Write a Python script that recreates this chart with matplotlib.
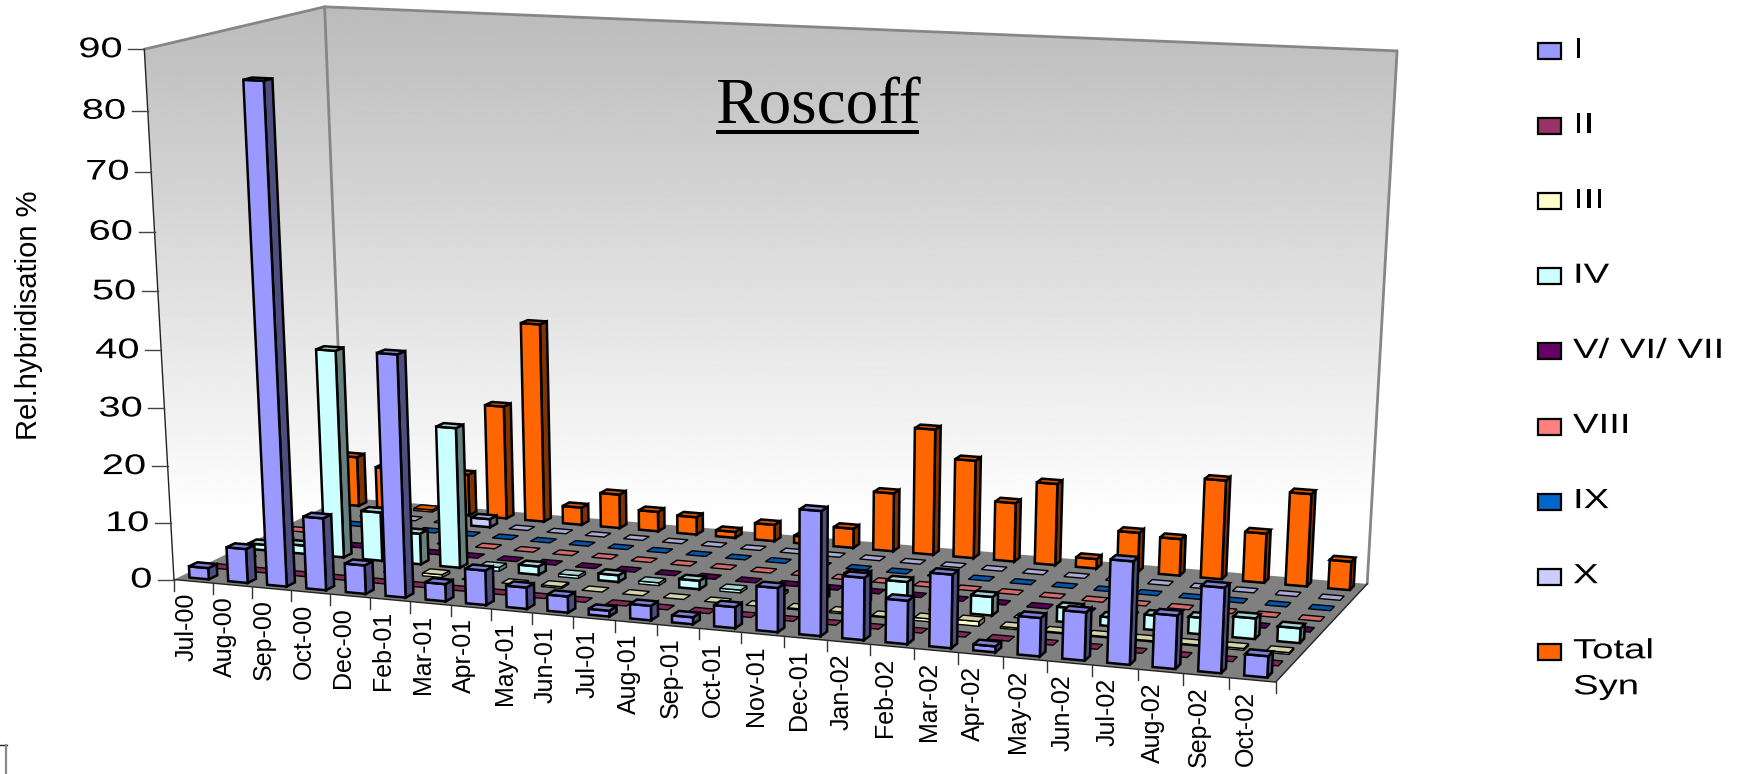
"""Roscoff 3D column chart: hybridisation per clade and month."""
import numpy as np
import matplotlib
matplotlib.use("Agg")
import matplotlib.pyplot as plt
from matplotlib.patches import Polygon, Rectangle
from matplotlib.patheffects import AbstractPathEffect
from matplotlib.transforms import Affine2D

MONTHS = ["Jul-00", "Aug-00", "Sep-00", "Oct-00", "Dec-00", "Feb-01", "Mar-01", "Apr-01", "May-01",
          "Jun-01", "Jul-01", "Aug-01", "Sep-01", "Oct-01", "Nov-01", "Dec-01", "Jan-02", "Feb-02",
          "Mar-02", "Apr-02", "May-02", "Jun-02", "Jul-02", "Aug-02", "Sep-02", "Oct-02"]

clade_i = [2, 6, 85.5, 12.6, 5, 41.7, 3, 6, 3.7, 2.8, 1, 2.5, 1.2, 3.6, 7.5, 21, 10.5, 7.3, 12.3, 1, 6.4, 8, 17, 8.8, 14, 3.5]
clade_ii = [0, 0, 0, 0, 0, 0, 0, 0, 0, 0, 0, 0, 0, 0, 0, 0, 0, 0, 0, 0, 0, 0, 0, 0, 0, 0]
clade_iii = [0, 0, 0, 0, 0, 0.5, 0, 0, 0.3, 0, 0, 0, 0, 0, 0.2, 0.3, 0.2, 0.5, 0.8, 0.3, 0.2, 0.2, 0.2, 0.2, 0.3, 0.3]
clade_iv = [1, 1.5, 36.8, 8.7, 5.5, 24.8, 0.7, 1.5, 0.5, 1.2, 0.5, 1.5, 0.5, 0.5, 1.5, 5, 4.5, 0, 3.2, 0, 2.5, 1.5, 2.5, 2.8, 3.5, 2.5]
clade_v = [0, 0, 0, 0, 0, 0, 0, 0, 0, 0, 0, 0, 0, 0, 0, 0, 0, 0, 0, 0, 0, 0, 0, 0, 0, 0]
clade_viii = [0, 0, 0, 0, 0, 0, 0, 0, 0, 0, 0, 0, 0, 0, 0, 0, 0, 0, 0, 0, 0, 0, 0, 0, 0, 0]
clade_ix = [0, 0, 0, 0, 0, 0, 0, 0, 0, 0, 0, 0, 0, 0, 0, 0, 0, 0, 0, 0, 0, 0, 0, 0, 0, 0]
clade_x = [0, 0, 0, 0, 1.5, 0, 0, 0, 0, 0, 0, 0, 0, 0, 0, 0, 0, 0, 0, 0, 0, 0, 0, 0, 0, 0]
total_syn = [9.2, 7.6, 0.4, 7.6, 20.8, 36.3, 3.2, 6.2, 3.6, 3.2, 1.1, 3, 1.3, 3.5, 10.5, 22.5, 17.5, 10.5, 14.5, 1.7, 7, 6.5, 17.4, 8.7, 16.2, 5]

SERIES = [clade_i, clade_ii, clade_iii, clade_iv, clade_v, clade_viii, clade_ix, clade_x, total_syn]
NAMES = ["I", "II", "III", "IV", "V/ VI/ VII", "VIII", "IX", "X", "Total\nSyn"]
COLORS = ["#9999FF", "#993366", "#FFFFCC", "#CCFFFF", "#660066", "#FF8080", "#0066CC", "#CCCCFF", "#FF6600"]
YTICKS = [0, 10, 20, 30, 40, 50, 60, 70, 80, 90]
YMAX = 90

# box corners (month axis, series axis, height) -> where they sit in the picture
BOX = [((0, 0, 0), (174, 578)), ((1, 0, 0), (1276, 683)), ((1, 1, 0), (1367, 583)), ((0, 1, 0), (344, 499)),
       ((0, 0, 1), (144, 50)), ((0, 1, 1), (325, 6)), ((1, 1, 1), (1397, 51))]
BAR_W = 0.5
BAR_D = 0.42


class Stretch(AbstractPathEffect):
    """Widen glyphs sideways, the original chart has squashed-out text."""

    def __init__(self, sx, anchor="left"):
        super().__init__()
        self.sx = sx
        self.anchor = anchor

    def draw_path(self, renderer, gc, tpath, affine, rgbFace=None):
        x0 = tpath.get_extents().x1 if self.anchor == "right" else 0
        t = Affine2D().translate(-x0, 0).scale(self.sx, 1).translate(x0, 0)
        renderer.draw_path(gc, tpath, t + affine, rgbFace)


def fit_camera(box):
    A, b = [], []
    for (X, Y, Z), (x, y) in box:
        A.append([X, Y, Z, 1, 0, 0, 0, 0, -x * X, -x * Y, -x * Z])
        A.append([0, 0, 0, 0, X, Y, Z, 1, -y * X, -y * Y, -y * Z])
        b += [x, y]
    p = np.linalg.lstsq(np.array(A, float), np.array(b, float), rcond=None)[0]
    return np.append(p, 1).reshape(3, 4)


CAM = fit_camera(BOX)


def proj(u, v, w=0.0):
    px = CAM @ np.array([u, v, w, 1.0])
    return px[0] / px[2], px[1] / px[2]


def shade(color, f):
    rgb = np.array(matplotlib.colors.to_rgb(color)) * f
    return tuple(rgb)


def signed_area(pts):
    a = np.array(pts)
    x, y = a[:, 0], a[:, 1]
    return 0.5 * np.sum(x * np.roll(y, -1) - np.roll(x, -1) * y)


def draw_bar(ax, i, j, val, color):
    n, m = len(MONTHS), len(SERIES)
    u0 = (i + 0.5 - BAR_W / 2) / n
    u1 = (i + 0.5 + BAR_W / 2) / n
    v0 = (j + 0.5 - BAR_D / 2) / m
    v1 = (j + 0.5 + BAR_D / 2) / m
    w = val / YMAX
    lw = 1.8 if val >= 1 else 1.0
    faces = []
    if val > 0:
        left = [proj(u0, v1, 0), proj(u0, v0, 0), proj(u0, v0, w), proj(u0, v1, w)]
        right = [proj(u1, v0, 0), proj(u1, v1, 0), proj(u1, v1, w), proj(u1, v0, w)]
        front = [proj(u0, v0, 0), proj(u1, v0, 0), proj(u1, v0, w), proj(u0, v0, w)]
        if signed_area(left) < 0:
            faces.append((left, shade(color, 0.5)))
        if signed_area(right) < 0:
            faces.append((right, shade(color, 0.5)))
        faces.append((front, color))
    top = [proj(u0, v0, w), proj(u1, v0, w), proj(u1, v1, w), proj(u0, v1, w)]
    faces.append((top, shade(color, 0.83)))
    for pts, fc in faces:
        ax.add_patch(Polygon(pts, closed=True, facecolor=fc, edgecolor="black", linewidth=lw, joinstyle="miter", zorder=5))


fig = plt.figure(figsize=(17.47, 7.74), dpi=100)
ax = fig.add_axes([0, 0, 1, 1])
ax.axis("off")

# walls, gradient runs straight down the picture
grad = np.linspace(187, 255, 256).reshape(-1, 1) / 255
for corners in ([(0, 0), (0, 1)], [(0, 1), (1, 1)]):
    (a0, b0), (a1, b1) = corners
    wall = [proj(a0, b0, 0), proj(a1, b1, 0), proj(a1, b1, 1), proj(a0, b0, 1)]
    im = ax.imshow(grad, cmap="gray", vmin=0, vmax=1, extent=(0, 1747, 520, 6), aspect="auto", zorder=1)
    im.set_clip_path(Polygon(wall, closed=True, transform=ax.transData))
ax.set_xlim(0, 1747)
ax.set_ylim(774, 0)

# wall outline
for a, b in [((0, 0, 1), (0, 1, 1)), ((0, 1, 1), (1, 1, 1)), ((0, 1, 1), (0, 1, 0)), ((1, 1, 1), (1, 1, 0))]:
    xs, ys = zip(proj(*a), proj(*b))
    ax.plot(xs, ys, color="#868686", lw=2, zorder=2, solid_capstyle="round")

# floor
floor = [proj(0, 0), proj(1, 0), proj(1, 1), proj(0, 1)]
ax.add_patch(Polygon(floor, closed=True, facecolor="#808080", edgecolor="none", zorder=3))
xs, ys = zip(proj(0, 0), proj(1, 0), proj(1, 1))
ax.plot(xs, ys, color="#222222", lw=1, zorder=4)
xs, ys = zip(proj(0, 0, 0), proj(0, 0, 1))
ax.plot(xs, ys, color="#222222", lw=1, zorder=4)

# y axis
for t in YTICKS:
    x, y = proj(0, 0, t / YMAX)
    ax.plot([x - 16, x], [y, y], color="#444444", lw=1, zorder=4)
    ax.text(x - 22, y + 1, str(t), ha="right", va="center", fontsize=20.5, family="Liberation Sans", color="black",
            path_effects=[Stretch(1.4, "right")])

# x axis
for i in range(len(MONTHS) + 1):
    x, y = proj(i / len(MONTHS), 0)
    ax.plot([x, x], [y, y + 11], color="#333333", lw=1, zorder=4)
for i, lab in enumerate(MONTHS):
    x, y = proj((i + 0.5) / len(MONTHS), 0)
    ax.text(x - 7, y + 11, lab, rotation=90, ha="center", va="top", fontsize=18,
            family="Liberation Sans", color="black")

# columns, back row first
for j in range(len(SERIES) - 1, -1, -1):
    for i in range(len(MONTHS)):
        draw_bar(ax, i, j, SERIES[j][i], COLORS[j])

ax.text(818, 123, "Roscoff", ha="center", va="baseline", fontsize=47, family="Liberation Serif", color="black", zorder=6)
ax.plot([716, 919], [132, 132], color="black", lw=2.9, zorder=6, solid_capstyle="butt")
ax.text(29, 315, "Rel.hybridisation %", rotation=90, ha="center", va="center", fontsize=21,
        family="Liberation Sans", color="black")

# legend
for k, (name, col) in enumerate(zip(NAMES, COLORS)):
    y = 43 + 75.1 * k
    ax.add_patch(Rectangle((1538, y), 23, 16, facecolor=col, edgecolor="black", linewidth=1.6))
    for n, line in enumerate(name.split("\n")):
        ax.text(1573, y + 14.5 + 36 * n, line, ha="left", va="baseline", fontsize=20, family="Liberation Sans",
                color="black", path_effects=[Stretch(1.38)])

# stray box corner at bottom left
ax.plot([0, 7], [745, 745], color="#222222", lw=1)
ax.plot([6.5, 6.5], [745, 774], color="#888888", lw=1.6)

fig.savefig("out.png", dpi=100)
